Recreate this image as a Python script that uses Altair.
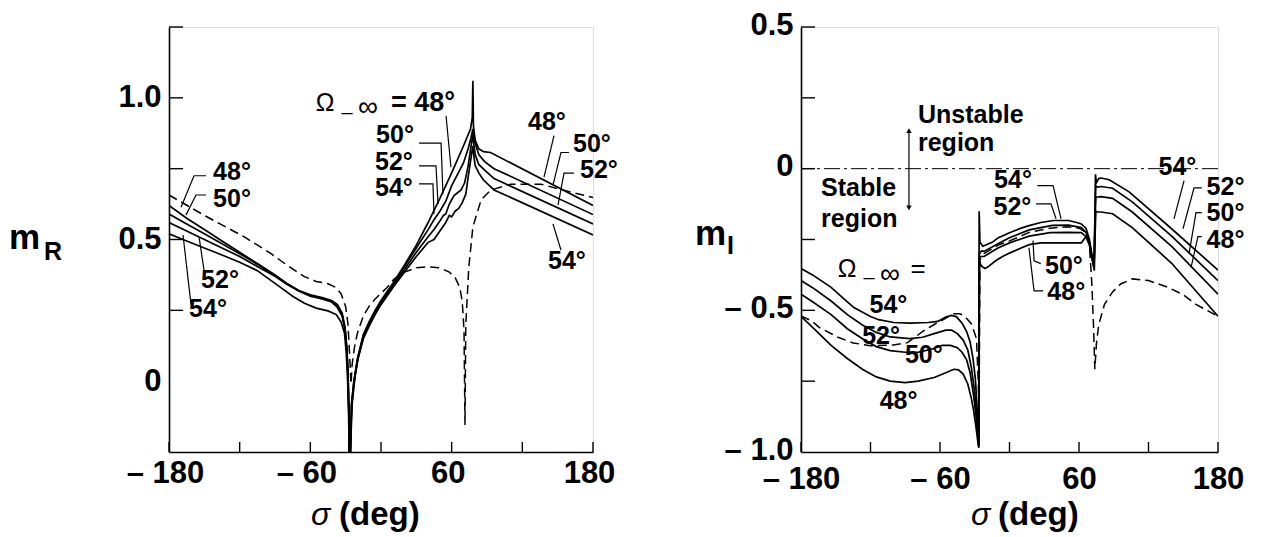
import altair as alt
import pandas as pd

FONT = "Liberation Sans"

# ---------------- left panel (m_R) ----------------
L48_S = [-180,-165,-150,-135,-120,-105,-90,-80,-70,-60,-50,-42,-37,-33,-30.5,-29,-28,-27.3,-27,-26,-25,-23,-20,-15,-10,-5,0,10,20,30,40,50,60,70,76,77.5,78,78.5,80,83,87,93,180]
L48_M = [0.62,0.575,0.535,0.495,0.455,0.415,0.375,0.345,0.32,0.305,0.295,0.285,0.27,0.24,0.19,0.12,0.03,-0.1,-0.25,-0.25,-0.08,0.0,0.08,0.165,0.21,0.25,0.285,0.345,0.41,0.48,0.56,0.645,0.735,0.83,0.89,0.93,1.06,0.9,0.85,0.82,0.81,0.807,0.62]
L50_S = [-180,-165,-150,-135,-120,-105,-90,-80,-70,-60,-50,-42,-37,-33,-30.5,-29,-28,-27.3,-27,-26,-25,-23,-20,-15,-10,-5,0,10,20,30,40,45,50,55,60,65,70,74,76.5,78,79,80,83,88,96,180]
L50_M = [0.59,0.555,0.52,0.485,0.45,0.413,0.373,0.345,0.32,0.303,0.292,0.282,0.265,0.235,0.18,0.11,0.02,-0.1,-0.25,-0.25,-0.08,0.0,0.075,0.16,0.205,0.245,0.28,0.34,0.405,0.47,0.535,0.57,0.6,0.635,0.69,0.73,0.77,0.82,0.86,0.89,0.86,0.84,0.80,0.775,0.75,0.588]
L52_S = [-180,-165,-150,-135,-120,-105,-90,-80,-70,-60,-50,-42,-37,-33,-30.5,-29,-28,-27.3,-27,-26,-25,-23,-20,-15,-10,-5,0,10,20,30,40,45,50,53,55,58,62,65,68,71,74,76.5,78,79,80,83,88,96,180]
L52_M = [0.56,0.53,0.5,0.47,0.44,0.405,0.37,0.342,0.318,0.3,0.29,0.28,0.26,0.23,0.18,0.11,0.02,-0.1,-0.25,-0.25,-0.09,-0.01,0.07,0.155,0.2,0.24,0.275,0.335,0.395,0.455,0.51,0.535,0.565,0.585,0.59,0.625,0.655,0.665,0.675,0.7,0.76,0.83,0.87,0.83,0.80,0.765,0.745,0.715,0.555]
L54_S = [-180,-165,-150,-135,-120,-105,-95,-85,-75,-65,-55,-45,-38,-34,-31,-29.5,-28.3,-27.5,-27,-26,-24.5,-22,-19,-15,-10,-5,0,10,20,30,40,45,50,55,58,60,63,66,69,72,74,76.5,78,79,80,83,87,96,180]
L54_M = [0.52,0.495,0.47,0.445,0.42,0.39,0.36,0.33,0.3,0.275,0.258,0.248,0.235,0.21,0.17,0.1,0.0,-0.12,-0.25,-0.25,-0.08,0.02,0.09,0.15,0.195,0.235,0.27,0.33,0.385,0.44,0.49,0.5,0.53,0.56,0.585,0.58,0.6,0.61,0.63,0.66,0.72,0.79,0.83,0.79,0.76,0.735,0.71,0.675,0.516]
LD_S = [-180,-150,-116,-93,-80,-65,-55,-45,-38,-34,-30,-28,-26.5,-25.5,-24.5,-22.5,-20,-15,-10,-5,0,5,11,20,30,40,50,58,63,67,69,70.5,71.3,72,74.5,78,85,93,110,136,155,180]
LD_M = [0.657,0.585,0.509,0.449,0.41,0.369,0.352,0.344,0.33,0.309,0.263,0.2,0.08,-0.01,0.06,0.12,0.17,0.23,0.265,0.29,0.31,0.33,0.36,0.385,0.4,0.404,0.4,0.385,0.365,0.33,0.28,0.18,-0.155,0.2,0.4,0.544,0.64,0.674,0.695,0.695,0.674,0.648]

# curve labels, left panel
LAB_L_TXT = ["50°", "52°", "54°", "48°", "50°", "52°", "54°", "48°", "50°", "52°", "54°"]
LAB_L_S = [11.9, 11.0, 11.0, 140.9, 179.1, 185.0, 157.9, -126.5, -126.5, -136.7, -146.9]
LAB_L_M = [0.868, 0.775, 0.682, 0.913, 0.838, 0.744, 0.425, 0.738, 0.644, 0.358, 0.256]
# leader lines, left panel
LEAD_L = [
    ([55.2, 59.4], [0.937, 0.755]),
    ([32.3, 51.0, 52.6], [0.84, 0.84, 0.66]),
    ([32.3, 46.7, 48.4], [0.76, 0.76, 0.625]),
    ([32.3, 44.1, 45.0], [0.696, 0.696, 0.59]),
    ([146.9, 138.4], [0.867, 0.72]),
    ([159.6, 152.8, 146.0], [0.807, 0.807, 0.692]),
    ([163.8, 155.4, 150.3], [0.734, 0.734, 0.621]),
    ([152.8, 146.0], [0.463, 0.555]),
    ([-148.6, -158.8, -169.8], [0.725, 0.725, 0.614]),
    ([-148.6, -157.1, -165.6], [0.657, 0.657, 0.586]),
    ([-150.3, -154.5], [0.393, 0.509]),
    ([-161.3, -168.1], [0.27, 0.516]),
]

# ---------------- right panel (m_I) ----------------
R54_S = [-180,-170,-154,-140,-134,-120,-113,-100,-86,-70,-62,-55,-50,-46,-41,-37,-34,-31.5,-29.5,-28,-27,-26.5,-26.2,-25.5,-23,-15,-10,0,10,17,27,38,51,58,62,66,69,71,73,73.7,74.2,75,77,79,86,103,137,180]
R54_M = [-0.352,-0.375,-0.419,-0.47,-0.491,-0.522,-0.533,-0.543,-0.545,-0.543,-0.539,-0.524,-0.518,-0.522,-0.545,-0.575,-0.612,-0.67,-0.74,-0.84,-0.93,-0.98,-0.15,-0.26,-0.274,-0.26,-0.245,-0.226,-0.21,-0.201,-0.19,-0.183,-0.183,-0.19,-0.195,-0.21,-0.25,-0.3,-0.34,-0.2,-0.02,-0.05,-0.035,-0.033,-0.039,-0.081,-0.2015,-0.358]
R52_S = [-180,-170,-154,-140,-127,-115,-103,-86,-75,-65,-55,-50,-45,-40,-36,-33,-30,-28,-27,-26.5,-26,-24,-22,-10,0,17,37,51,62,66,69,71,73,73.8,74.5,76,79,89,106,140,180]
R52_M = [-0.395,-0.42,-0.467,-0.515,-0.552,-0.578,-0.594,-0.6,-0.595,-0.582,-0.57,-0.57,-0.582,-0.605,-0.64,-0.7,-0.79,-0.88,-0.94,-0.98,-0.3,-0.29,-0.292,-0.265,-0.244,-0.216,-0.2,-0.199,-0.208,-0.225,-0.26,-0.31,-0.345,-0.15,-0.06,-0.065,-0.063,-0.069,-0.117,-0.238,-0.395]
R50_S = [-180,-170,-154,-140,-127,-115,-103,-90,-79,-68,-58,-51,-45,-41,-37,-34,-31,-29,-27.5,-26.5,-26,-24,-22,-10,0,17,35,50,62,66,69,71,73,73.8,74.5,76,79,89,106,140,180]
R50_M = [-0.443,-0.47,-0.515,-0.565,-0.6,-0.628,-0.642,-0.648,-0.648,-0.638,-0.624,-0.624,-0.632,-0.648,-0.675,-0.72,-0.8,-0.87,-0.94,-0.98,-0.31,-0.31,-0.31,-0.28,-0.262,-0.238,-0.226,-0.225,-0.226,-0.24,-0.27,-0.315,-0.35,-0.2,-0.1,-0.1,-0.099,-0.105,-0.153,-0.274,-0.443]
R48_S = [-180,-170,-154,-140,-127,-115,-103,-90,-79,-65,-55,-48,-44,-40,-36,-33,-31,-29,-27.4,-26.5,-26,-24,-21,-18,-12,-6,0,10,17,27,40,55,62,66,68,70,72,73.2,73.8,74.5,76,79,89,106,140,180]
R48_M = [-0.521,-0.56,-0.624,-0.67,-0.708,-0.735,-0.75,-0.755,-0.75,-0.737,-0.72,-0.708,-0.71,-0.725,-0.76,-0.81,-0.853,-0.91,-0.962,-0.985,-0.33,-0.345,-0.352,-0.345,-0.325,-0.31,-0.298,-0.28,-0.268,-0.262,-0.262,-0.262,-0.262,-0.24,-0.245,-0.28,-0.33,-0.36,-0.25,-0.15,-0.153,-0.153,-0.159,-0.208,-0.334,-0.521]
RD_S = [-180,-171,-164,-148,-135,-120,-100,-88,-74,-65,-56,-48,-43,-39,-33,-28.5,-27,-26.3,-25.5,-22,-10,0,17,35,50,60,66,69,71,72.5,73.7,75,77,82,89,96,106,120,137,150,161,180]
RD_M = [-0.52,-0.537,-0.561,-0.595,-0.615,-0.625,-0.622,-0.614,-0.572,-0.55,-0.53,-0.512,-0.512,-0.519,-0.547,-0.6,-0.75,-0.9,-0.32,-0.3,-0.27,-0.255,-0.225,-0.21,-0.205,-0.21,-0.225,-0.27,-0.4,-0.55,-0.708,-0.62,-0.551,-0.479,-0.435,-0.407,-0.389,-0.395,-0.419,-0.445,-0.479,-0.521]

LAB_R_TXT = ["54°", "52°", "50°", "48°", "54°", "52°", "50°", "48°", "54°", "52°", "50°", "48°"]
LAB_R_S = [-104.5, -110.9, -74.0, -95.8, 3.0, 2.5, 47.0, 49.0, 145.0, 186.5, 186.5, 186.5]
LAB_R_M = [-0.482, -0.59, -0.658, -0.82, -0.04, -0.135, -0.342, -0.437, 0.007, -0.064, -0.157, -0.25]
LEAD_R = [
    ([24.0, 37.6, 44.5], [-0.06, -0.06, -0.177]),
    ([23.0, 35.8, 40.2], [-0.124, -0.124, -0.177]),
    ([27.0, 21.2, 20.3], [-0.335, -0.325, -0.254]),
    ([29.0, 21.2, 16.8], [-0.431, -0.431, -0.279]),
    ([150.7, 142.0], [-0.042, -0.177]),
    ([166.0, 159.3, 149.8], [-0.068, -0.068, -0.212]),
    ([166.0, 161.0, 155.0], [-0.155, -0.155, -0.3]),
    ([166.0, 162.7, 156.7], [-0.24, -0.24, -0.349]),
]
REGION_TXT = ["Unstable", "region", "Stable", "region"]
REGION_S = [-79.0, -79.0, -162.7, -162.7]
REGION_M = [0.19, 0.092, -0.068, -0.176]
ARROW_S = [-86.8, -86.8]
ARROW_M = [0.134, -0.138]

X_LABELS = [-180, -60, 60, 180]
X_TICKS = [-180, -120, -60, 0, 60, 120, 180]


def curves_df(curves):
    rows = []
    for name, (s, m) in curves.items():
        assert len(s) == len(m), name
        for i, (a, b) in enumerate(zip(s, m)):
            rows.append({"id": name, "s": a, "m": b, "i": i})
    return pd.DataFrame(rows)


def leaders_df(leads):
    rows = []
    for k, (s, m) in enumerate(leads):
        for i, (a, b) in enumerate(zip(s, m)):
            rows.append({"id": k, "s": a, "m": b, "i": i})
    return pd.DataFrame(rows)


def txt(text, px, py, size, weight="bold", style="normal", align="left", baseline="alphabetic"):
    return alt.Chart(pd.DataFrame({"t": [text]})).mark_text(
        font=FONT, fontSize=size, fontWeight=weight, fontStyle=style,
        align=align, baseline=baseline, color="black"
    ).encode(x=alt.value(px), y=alt.value(py), text="t:N")


def panel(solid, dashed, leads, lab_txt, lab_s, lab_m, ydom, ylab, yticks, yexpr, W, H, extra,
          xpad, xoff, yoff):
    xenc = alt.X("s:Q", scale=alt.Scale(domain=[-180, 180], nice=False, zero=False),
                 axis=alt.Axis(values=X_LABELS, title=None, grid=False, tickSize=0,
                               domainWidth=1.6, domainColor="black",
                               labelFont=FONT, labelFontSize=31, labelFontWeight="bold",
                               labelColor="black", labelPadding=xpad, labelFlush=False,
                               labelOverlap=False, labelOffset=xoff,
                               labelExpr="datum.value < 0 ? '– ' + abs(datum.value) : '' + datum.value"))
    yenc = alt.Y("m:Q", scale=alt.Scale(domain=ydom, nice=False, zero=False),
                 axis=alt.Axis(values=ylab, title=None, grid=False, tickSize=0,
                               domainWidth=1.6, domainColor="black",
                               labelFont=FONT, labelFontSize=31, labelFontWeight="bold",
                               labelColor="black", labelPadding=8, labelFlush=False,
                               labelOverlap=False, labelOffset=yoff, labelExpr=yexpr))
    sol = alt.Chart(curves_df(solid)).mark_line(color="black", strokeWidth=1.7, clip=True,
                                                interpolate="linear").encode(
        x=xenc, y=yenc, detail="id:N", order="i:Q")
    das = alt.Chart(curves_df({"d": dashed})).mark_line(color="black", strokeWidth=1.5, clip=True,
                                                        strokeDash=[9, 5]).encode(
        x=xenc, y=yenc, detail="id:N", order="i:Q")
    lead = alt.Chart(leaders_df(leads)).mark_line(color="black", strokeWidth=1.2).encode(
        x=xenc, y=yenc, detail="id:N", order="i:Q")
    labs = alt.Chart(pd.DataFrame({"s": lab_s, "m": lab_m, "t": lab_txt})).mark_text(
        font=FONT, fontSize=25, fontWeight="bold", color="black", align="center",
        baseline="middle").encode(x=xenc, y=yenc, text="t:N")
    xt = alt.Chart(pd.DataFrame({"s": X_TICKS})).mark_rule(color="black", strokeWidth=1.4).encode(
        x=xenc, y=alt.value(H), y2=alt.value(H - 10))
    yt = alt.Chart(pd.DataFrame({"m": yticks})).mark_rule(color="black", strokeWidth=1.4).encode(
        y=yenc, x=alt.value(0), x2=alt.value(14))
    layers = [sol, das, lead, labs, xt, yt] + [e(xenc, yenc) if callable(e) else e for e in extra]
    return alt.layer(*layers).properties(width=W, height=H)


H = 425

# ---- left extras
left_extra = [
    txt("Ω", 156, 84, 25, weight="normal", align="center"),
    txt("–", 178, 92, 20, weight="normal", align="center"),
    txt("∞", 199, 89, 28, weight="normal", align="center"),
    txt("= 48°", 254, 84, 27, align="center"),
    txt("m", -160, 222, 35),
    txt("R", -125, 233, 25),
    txt("σ", 142, 498, 32, weight="normal", style="italic"),
    txt("(deg)", 170, 498, 33),
]
left = panel({"48": (L48_S, L48_M), "50": (L50_S, L50_M), "52": (L52_S, L52_M), "54": (L54_S, L54_M)},
             (LD_S, LD_M), LEAD_L, LAB_L_TXT, LAB_L_S, LAB_L_M,
             [-0.25, 1.25], [0, 0.5, 1.0], [0.25, 0.5, 0.75, 1.0, 1.25],
             "datum.value == 0 ? '0' : format(datum.value, '.1f')", 424, H, left_extra, 6, -4, 0)


def zero_line(xenc, yenc):
    return alt.Chart(pd.DataFrame({"m": [0.0]})).mark_rule(
        color="black", strokeWidth=1, strokeDash=[16, 4, 3, 4]).encode(y=yenc)


def region_text(xenc, yenc):
    return alt.Chart(pd.DataFrame({"s": REGION_S, "m": REGION_M, "t": REGION_TXT})).mark_text(
        font=FONT, fontSize=25, fontWeight="bold", color="black", align="left",
        baseline="middle").encode(x=xenc, y=yenc, text="t:N")


def arrow_line(xenc, yenc):
    return alt.Chart(pd.DataFrame({"s": ARROW_S, "m": ARROW_M, "i": [0, 1]})).mark_line(
        color="black", strokeWidth=1.2).encode(x=xenc, y=yenc, order="i:Q")


def arrow_heads(xenc, yenc):
    return alt.Chart(pd.DataFrame({"s": ARROW_S, "m": ARROW_M,
                                   "sh": ["triangle-up", "triangle-down"]})).mark_point(
        filled=True, color="black", size=30, opacity=1).encode(
        x=xenc, y=yenc, shape=alt.Shape("sh:N", scale=None))


right_extra = [
    zero_line, region_text, arrow_line, arrow_heads,
    txt("Ω", 46, 250, 25, weight="normal", align="center"),
    txt("–", 68, 257, 20, weight="normal", align="center"),
    txt("∞", 89, 256, 28, weight="normal", align="center"),
    txt("=", 117, 250, 26, weight="normal", align="center"),
    txt("m", -106, 218, 35),
    txt("I", -74, 227, 25),
    txt("σ", 170, 498, 32, weight="normal", style="italic"),
    txt("(deg)", 197, 498, 33),
]
right = panel({"48": (R48_S, R48_M), "50": (R50_S, R50_M), "52": (R52_S, R52_M), "54": (R54_S, R54_M)},
              (RD_S, RD_M), LEAD_R, LAB_R_TXT, LAB_R_S, LAB_R_M,
              [-1.0, 0.5], [-1.0, -0.5, 0, 0.5], [-0.75, -0.5, -0.25, 0, 0.25, 0.5],
              "datum.value == 0 ? '0' : (datum.value < 0 ? '– ' + format(-datum.value, '.1f') : format(datum.value, '.1f'))",
              417, H, right_extra, 12, 0, -2)

chart = alt.hconcat(left, right, spacing=75).properties(
    padding={"left": 0, "top": 0, "right": 0, "bottom": 0}
).configure_view(stroke=None).configure(background="white")

chart.save("out.html", embed_options={"renderer": "svg", "actions": False})
